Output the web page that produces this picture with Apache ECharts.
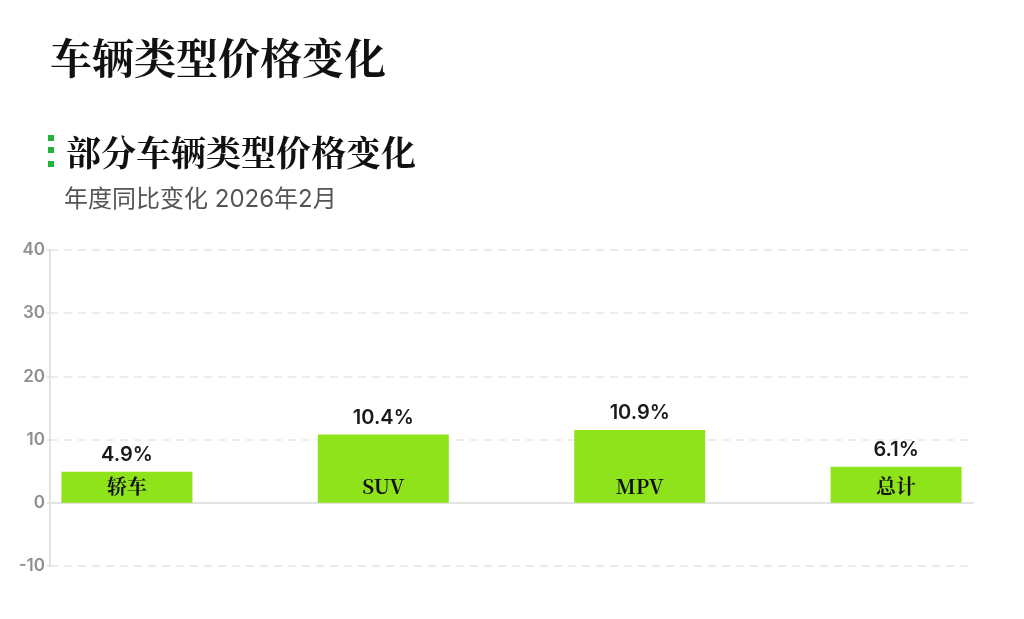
<!DOCTYPE html>
<html>
<head>
<meta charset="utf-8">
<script src="https://cdn.jsdelivr.net/npm/echarts@6/dist/echarts.min.js"></script>
<style>
  html, body { margin: 0; padding: 0; background: #fff; }
  #chart-container { width: 1024px; height: 619px; }
</style>
</head>
<body>
<div id="chart-container"></div>
<script>
// Datos del gráfico
var categorias = ['轿车', 'SUV', 'MPV', '总计'];
var posiciones = [0, 1, 2, 3];
var alturas = [4.9, 10.8, 11.5, 5.7];
var etiquetas = ['4.9%', '10.4%', '10.9%', '6.1%'];
var ticksY = [-10, 0, 10, 20, 30, 40];

var serif = "'Noto Serif CJK SC', 'DejaVu Serif', 'Noto Sans CJK SC', serif";
var sans = "'Inter', 'Noto Sans CJK SC', sans-serif";

var myChart = echarts.init(document.getElementById('chart-container'));

var puntos = posiciones.map(function (p, i) { return [p, alturas[i]]; });

var option = {
    backgroundColor: '#fff',
    animation: false,
    title: [
        {
            text: '车辆类型价格变化',
            left: 45, top: 32,
            textStyle: { fontFamily: serif, fontSize: 42, fontWeight: 'bold', color: '#111' }
        },
        {
            text: '部分车辆类型价格变化',
            left: 61, top: 130,
            textStyle: { fontFamily: serif, fontSize: 35, fontWeight: 'bold', color: '#111' }
        },
        {
            text: '年度同比变化 2026年2月',
            left: 59, top: 183,
            textStyle: { fontFamily: sans, fontSize: 24, fontWeight: 'normal', color: '#555' }
        }
    ],
    graphic: [
        { type: 'rect', shape: { x: 48, y: 135, width: 6, height: 6 }, style: { fill: '#22b33a' } },
        { type: 'rect', shape: { x: 48, y: 147, width: 6, height: 6 }, style: { fill: '#22b33a' } },
        { type: 'rect', shape: { x: 48, y: 161, width: 6, height: 6 }, style: { fill: '#22b33a' } }
    ],
    grid: { left: 50, right: 51, top: 250, bottom: 53, containLabel: false },
    xAxis: {
        type: 'value',
        min: -0.3, max: 3.3,
        axisLine: { show: true, onZero: true, lineStyle: { color: '#e3e3e3', width: 2 } },
        axisTick: { show: false },
        axisLabel: { show: false },
        splitLine: { show: false }
    },
    yAxis: {
        type: 'value',
        min: ticksY[0], max: ticksY[ticksY.length - 1], interval: 10,
        axisLine: { show: true, onZero: false, lineStyle: { color: '#e3e3e3', width: 2 } },
        axisTick: { show: true, length: 3, lineStyle: { color: '#e3e3e3', width: 2 } },
        axisLabel: { color: '#8f8f8f', fontSize: 17, fontFamily: sans, fontWeight: 600, margin: 5 },
        splitLine: { show: true, lineStyle: { color: '#e6e6e6', type: [8, 6], width: 1.5 } }
    },
    series: [
        {
            type: 'bar',
            data: puntos,
            barWidth: 131,
            itemStyle: { color: '#8ee31a' },
            label: {
                show: true,
                position: 'insideBottom',
                distance: 6,
                fontFamily: serif,
                fontWeight: 'bold',
                fontSize: 20,
                color: '#111',
                formatter: function (p) { return categorias[p.dataIndex]; }
            },
            z: 2
        },
        {
            type: 'bar',
            data: puntos,
            barWidth: 131,
            barGap: '-100%',
            silent: true,
            itemStyle: { color: 'transparent' },
            label: {
                show: true,
                position: 'top',
                distance: 7,
                fontFamily: sans,
                fontWeight: 600,
                fontSize: 20,
                color: '#1a1a1a',
                formatter: function (p) { return etiquetas[p.dataIndex]; }
            },
            z: 3
        }
    ]
};

myChart.setOption(option);
</script>
</body>
</html>
